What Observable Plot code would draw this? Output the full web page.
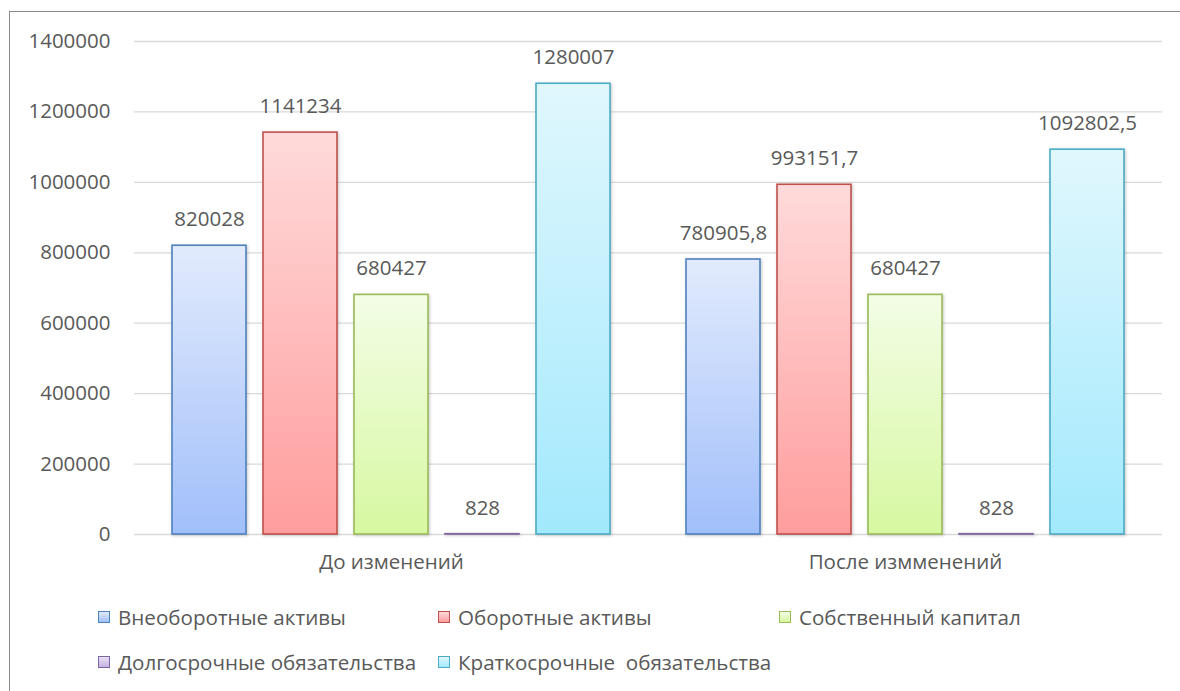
<!DOCTYPE html>
<html>
<head>
<meta charset="utf-8">
<script src="https://cdn.jsdelivr.net/npm/d3@7"></script>
<script src="https://cdn.jsdelivr.net/npm/@observablehq/plot@0.6"></script>
<style>
  html, body { margin: 0; padding: 0; width: 1180px; height: 691px; overflow: hidden; background: #fff; }
  body { position: relative; font-family: "Open Sans", sans-serif; }
  #frame { position: absolute; left: 9px; top: 11px; width: 1300px; height: 800px; border: 1.5px solid #8a8a8a; box-sizing: border-box; }
  #chart { position: absolute; left: 0; top: 0; }
  #legend { position: absolute; left: 0; top: 0; width: 1180px; height: 691px; pointer-events: none; }
  .item { position: absolute; display: flex; align-items: center; font-size: 20.6px; color: #595959; white-space: pre; transform: translateY(-50%); }
  .sw { width: 10px; height: 10px; border: 1.5px solid; margin-right: 8px; }
</style>
</head>
<body>
<div id="frame"></div>
<div id="chart"></div>
<div id="legend"></div>
<script>
const groups = ["До изменений", "После измменений"];
const series = ["Внеоборотные активы", "Оборотные активы", "Собственный капитал", "Долгосрочные обязательства", "Краткосрочные  обязательства"];
const valuesBefore = [820028, 1141234, 680427, 828, 1280007];
const valuesAfter = [780905.8, 993151.7, 680427, 828, 1092802.5];
const yTicks = [0, 200000, 400000, 600000, 800000, 1000000, 1200000, 1400000];
const strokeColors = ["#4F81BD", "#C0504D", "#9BBB59", "#8064A2", "#4BACC6"];
const gradTop = ["#E2EBFD", "#FFDADA", "#F3FDE6", "#E9E0F5", "#E0F7FD"];
const gradBottom = ["#A1BFFA", "#FF9D9D", "#D7F8A1", "#C5B3E3", "#A2E9FD"];

const data = [];
groups.forEach((g, gi) => {
  const vals = gi === 0 ? valuesBefore : valuesAfter;
  series.forEach((s, si) => data.push({group: g, series: s, si, value: vals[si]}));
});
const fmt = v => String(v).replace(".", ",");

const plot = Plot.plot({
  width: 1180,
  height: 580,
  marginTop: 41,
  marginBottom: 46,
  marginLeft: 134,
  marginRight: 18,
  style: {fontFamily: "'Open Sans', sans-serif", fontSize: "20.5px", color: "#595959", background: "transparent"},
  fx: {domain: groups, padding: 0, label: null},
  x: {domain: series, paddingInner: 0.1826, paddingOuter: 0.392, axis: null},
  y: {domain: [0, 1400000], label: null},
  marks: [
    Plot.gridY({ticks: yTicks, stroke: "#d9d9d9", strokeOpacity: 1, strokeWidth: 1.3}),
    Plot.axisY({ticks: yTicks, tickSize: 0, tickPadding: 24, tickFormat: d => String(d), label: null, fontSize: 20.5}),
    Plot.axisFx({anchor: "bottom", tickSize: 0, tickPadding: 20, label: null, fontSize: 20.5}),
    Plot.barY(data, {
      fx: "group", x: "series", y: "value",
      fill: d => `url(#grad${d.si})`,
      stroke: d => strokeColors[d.si],
      strokeWidth: 1.6
    }),
    Plot.text(data, {
      fx: "group", x: "series", y: "value",
      text: d => fmt(d.value),
      dy: -26, fill: "#595959", fontSize: 20.5
    })
  ]
});

const svg = d3.select(plot);
const defs = svg.insert("defs", ":first-child");
series.forEach((s, i) => {
  const lg = defs.append("linearGradient").attr("id", `grad${i}`).attr("x1", 0).attr("y1", 0).attr("x2", 0).attr("y2", 1);
  lg.append("stop").attr("offset", "0%").attr("stop-color", gradTop[i]);
  lg.append("stop").attr("offset", "100%").attr("stop-color", gradBottom[i]);
});
svg.selectAll("rect").style("filter", "drop-shadow(1px 1px 1.5px rgba(0,0,0,0.22))");
document.getElementById("chart").appendChild(plot);

// legend
const legend = document.getElementById("legend");
const legendPos = [[98, 617], [438, 617], [779, 617], [98, 662], [438, 662]];
series.forEach((s, i) => {
  const item = document.createElement("div");
  item.className = "item";
  item.style.left = legendPos[i][0] + "px";
  item.style.top = legendPos[i][1] + "px";
  const sw = document.createElement("div");
  sw.className = "sw";
  sw.style.borderColor = strokeColors[i];
  sw.style.background = `linear-gradient(${gradTop[i]}, ${gradBottom[i]})`;
  const t = document.createElement("span");
  t.textContent = s;
  item.appendChild(sw);
  item.appendChild(t);
  legend.appendChild(item);
});
</script>
</body>
</html>
